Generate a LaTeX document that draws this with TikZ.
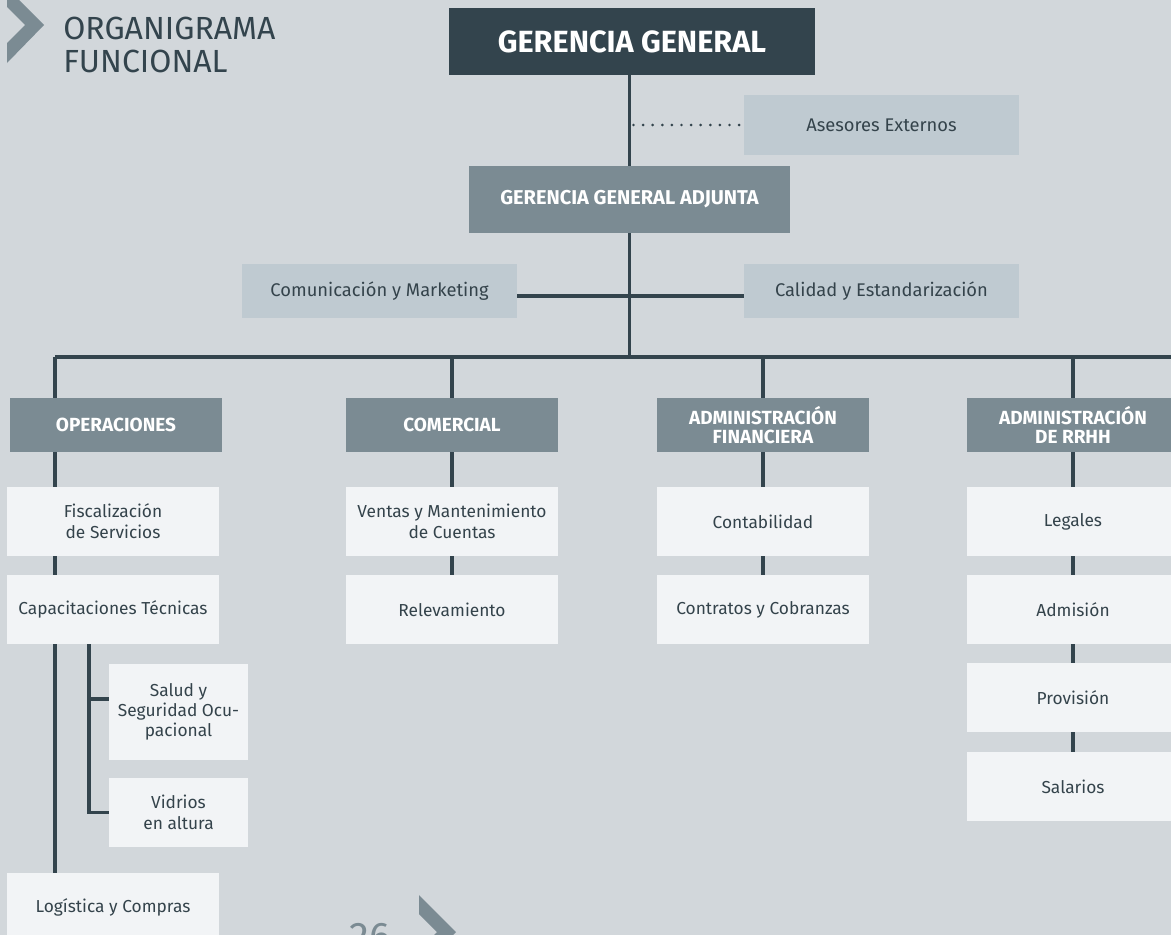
\documentclass[tikz,border=0pt]{standalone}
\usepackage{fontspec}
\setmainfont{Fira Sans}
\usetikzlibrary{positioning}

\definecolor{bgcol}{HTML}{D2D7DB}
\definecolor{darkcol}{HTML}{33444D}
\definecolor{midcol}{HTML}{7B8B93}
\definecolor{lightcol}{HTML}{BFCAD1}
\definecolor{palecol}{HTML}{F2F4F6}
\definecolor{txtcol}{HTML}{34434B}

\begin{document}
\begin{tikzpicture}[x=0.75pt,y=-0.75pt,
      topbox/.style={
         rectangle,
         fill=darkcol,
         text=white,
         inner sep=0pt,
         minimum width=274.5pt,
         minimum height=50.25pt,
         font=\bfseries\fontsize{23}{26}\selectfont},
      headbox/.style={
         rectangle,
         fill=midcol,
         text=white,
         align=center,
         inner sep=0pt,
         minimum width=159pt,
         minimum height=40.5pt,
         font=\bfseries\fontsize{14.25}{14.5}\selectfont},
      staffbox/.style={
         rectangle,
         fill=lightcol,
         text=txtcol,
         inner sep=0pt,
         minimum width=206.25pt,
         minimum height=40.5pt,
         font=\fontsize{13.75}{16}\selectfont},
      unitbox/.style={
         rectangle,
         fill=palecol,
         text=txtcol,
         align=center,
         inner sep=0pt,
         minimum width=159pt,
         minimum height=51.75pt,
         font=\fontsize{13}{15.75}\selectfont},
      link/.style={draw=darkcol,line width=2.4pt},
      ]
      \clip (0,0) rectangle (1171,935);
      \fill[bgcol] (0,0) rectangle (1171,935);
      % title and page marks
      \fill[midcol] (7,-12) -- (44,25) -- (7,63) -- (7,43) -- (25,25) -- (7,7) -- cycle;
      \node[anchor=north west,inner sep=0pt,align=left,text=darkcol,
            font=\fontsize{24}{24.75}\selectfont] (title) at (63,17) {ORGANIGRAMA\\FUNCIONAL};
      \fill[midcol] (419,895) -- (456,932) -- (419,970) -- (419,951) -- (437,932) -- (419,914) -- cycle;
      \node[anchor=north,inner sep=0pt,text=midcol,
            font=\fontsize{30}{34}\selectfont] (page) at (370,923) {26};
      % top levels
      \node[topbox] (gg) at (632,41.5) {GERENCIA GENERAL};
      \node[staffbox,minimum height=45pt] (ase) at (881.5,125) {Asesores Externos};
      \node[headbox,minimum width=240.75pt,minimum height=50.25pt,
            font=\bfseries\fontsize{15}{17}\selectfont] (gga) at (629.5,199.5) {GERENCIA GENERAL ADJUNTA};
      \node[staffbox] (com) at (379.5,291) {Comunicación y Marketing};
      \node[staffbox] (cal) at (881.5,291) {Calidad y Estandarización};
      % departments
      \node[headbox] (ops) at (116,425) {OPERACIONES};
      \node[headbox] (cmr) at (452,425) {COMERCIAL};
      \node[headbox] (fin) at (763,425) {ADMINISTRACIÓN\\FINANCIERA};
      \node[headbox] (rh) at (1073,425) {ADMINISTRACIÓN\\DE RRHH};
      % units
      \node[unitbox] (fis) at (113,521.5) {Fiscalización\\de Servicios};
      \node[unitbox] (cap) at (113,609.5) {Capacitaciones Técnicas};
      \node[unitbox,minimum width=104.25pt,minimum height=72pt,
            font=\fontsize{13}{15}\selectfont] (sso) at (178.5,712) {Salud y\\Seguridad Ocu-\\pacional};
      \node[unitbox,minimum width=104.25pt] (vid) at (178.5,812.5) {Vidrios\\en altura};
      \node[unitbox] (lgc) at (113,907.5) {Logística y Compras};
      \node[unitbox] (vta) at (452,521.5) {Ventas y Mantenimiento\\de Cuentas};
      \node[unitbox] (rlv) at (452,609.5) {Relevamiento};
      \node[unitbox] (cont) at (763,521.5) {Contabilidad};
      \node[unitbox] (ctr) at (763,609.5) {Contratos y Cobranzas};
      \node[unitbox] (leg) at (1073,521.5) {Legales};
      \node[unitbox] (adm) at (1073,609.5) {Admisión};
      \node[unitbox] (prov) at (1073,697.5) {Provisión};
      \node[unitbox] (sal) at (1073,786.5) {Salarios};
      % connectors
      \coordinate (busL) at (55,357);
      \coordinate (busR) at (1171,357);
      \coordinate (capbr) at (89,644);
      \draw[link] (gga.north |- gg.south) -- (gga.north);
      \draw[draw=darkcol,line width=2.2pt,line cap=round,dash pattern=on 0pt off 7.2pt]
         ([xshift=3pt]gga.north |- ase.west) -- (ase.west);
      \draw[link] (gga.south) -- (gga.south |- busL);
      \draw[link] ([yshift=-3.75pt]com.east) -- ([yshift=-3.75pt]cal.west);
      \draw[link] (busL) -- (busR);
      \draw[link] (busL) -- (busL |- ops.north);
      \draw[link] (busL |- ops.south) -- (busL |- fis.north);
      \draw[link] (busL |- fis.south) -- (busL |- cap.north);
      \draw[link] (busL |- cap.south) -- (busL |- lgc.north);
      \draw[link] (capbr) |- ([yshift=9.75pt]sso.west);
      \draw[link] (capbr) |- (vid.west);
      \foreach \d in {cmr,fin,rh}
         \draw[link] (\d.north |- busL) -- (\d.north);
      \foreach \a/\b in {cmr/vta,vta/rlv,fin/cont,cont/ctr,rh/leg,leg/adm,adm/prov,prov/sal}
         \draw[link] (\a.south) -- (\b.north);
\end{tikzpicture}
\end{document}
